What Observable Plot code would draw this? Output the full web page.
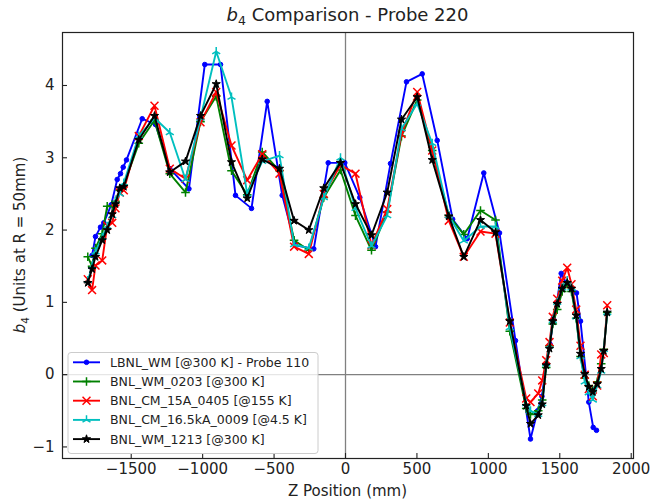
<!DOCTYPE html>
<html>
<head>
<meta charset="utf-8">
<script src="https://cdn.jsdelivr.net/npm/d3@7"></script>
<script src="https://cdn.jsdelivr.net/npm/@observablehq/plot@0.6"></script>
<style>
  html, body { margin: 0; padding: 0; background: #fff; }
  #chart { position: relative; width: 653px; height: 500px; }
  #chart svg text { white-space: pre; }
</style>
</head>
<body>
<div id="chart"></div>
<script>
// Z positions (mm) of the BNL scans
const bnlZ = [-1804, -1774, -1750, -1703, -1668, -1633, -1610, -1580, -1552, -1447, -1337, -1230, -1120, -1015, -905, -798, -688, -583, -462, -360, -257, -152, -35, 70, 182, 292, 392, 502, 607, 723, 828, 945, 1050, 1150, 1265, 1295, 1349, 1377, 1405, 1428, 1451, 1482, 1517, 1552, 1582, 1615, 1645, 1675, 1703, 1731, 1762, 1790, 1808, 1832];
// Z positions (mm) of the LBNL scan
const lbnlZ = [-1774, -1750, -1715, -1692, -1640, -1598, -1575, -1556, -1533, -1423, -1330, -1230, -1096, -985, -875, -770, -658, -548, -443, -350, -222, -121, -5, 100, 210, 315, 427, 537, 642, 750, 852, 968, 1078, 1190, 1295, 1345, 1375, 1405, 1432, 1455, 1480, 1510, 1545, 1617, 1645, 1703, 1734, 1757];

// b4 values (units at R = 50 mm)
const lbnlWM = [1.65, 1.91, 2.04, 2.10, 2.35, 2.70, 2.78, 2.87, 2.97, 3.54, 3.46, 2.85, 2.57, 4.29, 4.29, 2.48, 2.30, 3.78, 2.48, 1.79, 1.74, 2.93, 2.93, 2.45, 1.77, 2.92, 4.05, 4.16, 3.24, 2.15, 1.88, 2.79, 1.96, 0.47, -0.89, -0.50, -0.30, 0.15, 0.42, 0.78, 1.00, 1.40, 1.27, 1.13, 0.74, -0.38, -0.73, -0.77];
const bnlWM0203 = [1.63, 1.50, 1.75, 1.95, 2.33, 2.33, 2.40, 2.55, 2.62, 3.20, 3.52, 2.78, 2.52, 3.50, 3.85, 2.82, 2.49, 3.08, 2.82, 1.86, 1.72, 2.45, 2.83, 2.20, 1.72, 2.25, 3.30, 3.80, 3.10, 2.20, 1.94, 2.27, 2.14, 0.60, -0.47, -0.55, -0.50, -0.35, 0.10, 0.40, 0.70, 0.90, 1.15, 1.25, 1.15, 0.78, 0.25, -0.05, -0.15, -0.22, -0.10, 0.15, 0.35, 0.86];
const bnlCM15A0405 = [1.32, 1.17, 1.51, 1.58, 2.06, 2.10, 2.30, 2.52, 2.55, 3.30, 3.72, 2.85, 2.71, 3.49, 3.91, 3.17, 2.69, 3.05, 2.78, 1.77, 1.67, 2.50, 2.90, 2.78, 1.79, 2.29, 3.33, 3.91, 3.10, 2.13, 1.63, 1.98, 1.95, 0.72, -0.33, -0.38, -0.26, -0.08, 0.20, 0.45, 0.80, 1.05, 1.30, 1.48, 1.25, 0.90, 0.40, 0.00, -0.20, -0.30, -0.15, 0.28, 0.30, 0.96];
const bnlCM165kA0009 = [1.30, 1.50, 1.70, 1.90, 2.05, 2.20, 2.40, 2.50, 2.65, 3.30, 3.55, 3.35, 2.70, 3.55, 4.47, 3.84, 2.50, 2.95, 3.03, 1.80, 1.75, 2.45, 3.00, 2.30, 1.78, 2.20, 3.40, 3.75, 3.20, 2.20, 1.85, 2.05, 2.05, 0.65, -0.40, -0.50, -0.55, -0.40, 0.15, 0.40, 0.75, 1.00, 1.20, 1.30, 1.20, 0.80, 0.25, -0.10, -0.25, -0.35, -0.15, 0.05, 0.35, 0.86];
const bnlWM1213 = [1.27, 1.46, 1.63, 1.86, 2.00, 2.22, 2.36, 2.58, 2.60, 3.25, 3.58, 2.80, 2.95, 3.58, 4.02, 2.94, 2.44, 2.98, 2.85, 2.13, 2.00, 2.58, 2.93, 2.36, 1.93, 2.52, 3.53, 3.84, 2.97, 2.19, 1.63, 2.14, 1.97, 0.74, -0.43, -0.68, -0.56, -0.41, 0.13, 0.36, 0.74, 0.98, 1.19, 1.27, 1.19, 0.82, 0.29, 0.01, -0.17, -0.24, -0.13, 0.08, 0.33, 0.86];

const seriesNames = ["LBNL_WM [@300 K] - Probe 110", "BNL_WM_0203 [@300 K]", "BNL_CM_15A_0405 [@155 K]", "BNL_CM_16.5kA_0009 [@4.5 K]", "BNL_WM_1213 [@300 K]"];
const xTicks = [-1500, -1000, -500, 0, 500, 1000, 1500, 2000];
const yTicks = [-1, 0, 1, 2, 3, 4];

// Marker shapes (size is π·r², so r is the marker's half-extent)
const rOf = size => Math.sqrt(size / Math.PI);
const symPlus = {draw(ctx, size) { const r = rOf(size); ctx.moveTo(-r, 0); ctx.lineTo(r, 0); ctx.moveTo(0, -r); ctx.lineTo(0, r); }};
const symTimes = {draw(ctx, size) { const r = rOf(size) * Math.SQRT1_2; ctx.moveTo(-r, -r); ctx.lineTo(r, r); ctx.moveTo(-r, r); ctx.lineTo(r, -r); }};
const symTriUp = {draw(ctx, size) { const r = rOf(size); ctx.moveTo(0, 0); ctx.lineTo(0, -r); ctx.moveTo(0, 0); ctx.lineTo(-0.866 * r, 0.5 * r); ctx.moveTo(0, 0); ctx.lineTo(0.866 * r, 0.5 * r); }};
const symStar = {draw(ctx, size) {
  const R = rOf(size), ri = R * 0.382;
  for (let i = 0; i < 10; i++) {
    const a = -Math.PI / 2 + i * Math.PI / 5, rr = i % 2 ? ri : R;
    const x = rr * Math.cos(a), y = rr * Math.sin(a);
    if (i) ctx.lineTo(x, y); else ctx.moveTo(x, y);
  }
  ctx.closePath();
}};
const symDot = {draw(ctx, size) { const r = rOf(size); ctx.moveTo(r, 0); ctx.arc(0, 0, r, 0, 2 * Math.PI); }};

const series = [
  {name: seriesNames[0], z: lbnlZ, v: lbnlWM, color: "#0000ff", symbol: symDot, r: 2.3, fill: "#0000ff", stroke: "#0000ff", sw: 1},
  {name: seriesNames[1], z: bnlZ, v: bnlWM0203, color: "#008000", symbol: symPlus, r: 4.3, fill: "none", stroke: "#008000", sw: 1.5},
  {name: seriesNames[2], z: bnlZ, v: bnlCM15A0405, color: "#ff0000", symbol: symTimes, r: 5.6, fill: "none", stroke: "#ff0000", sw: 1.5},
  {name: seriesNames[3], z: bnlZ, v: bnlCM165kA0009, color: "#00bfbf", symbol: symTriUp, r: 4.6, fill: "none", stroke: "#00bfbf", sw: 1.5},
  {name: seriesNames[4], z: bnlZ, v: bnlWM1213, color: "#000000", symbol: symStar, r: 4.3, fill: "#000000", stroke: "#000000", sw: 1}
];
series.forEach(s => { s.data = s.z.map((z, i) => ({z, b4: s.v[i]})); });

const W = 653, H = 500;
const mL = 62, mR = 20, mT = 32, mB = 42;
const innerW = W - mL - mR, innerH = H - mT - mB;
const fmt = d => d < 0 ? "\u2212" + Math.abs(d) : String(d);

const marks = [
  Plot.ruleY([0], {stroke: "#808080", strokeWidth: 1.3}),
  Plot.ruleX([0], {stroke: "#808080", strokeWidth: 1.3})
];
for (const s of series) {
  marks.push(Plot.line(s.data, {x: "z", y: "b4", stroke: s.color, strokeWidth: 1.9}));
  marks.push(Plot.dot(s.data, {x: "z", y: "b4", symbol: s.symbol, r: s.r, fill: s.fill, stroke: s.stroke, strokeWidth: s.sw}));
}
marks.push(
  Plot.ruleX(xTicks, {insetTop: innerH - 5, stroke: "#222", strokeWidth: 1.1}),
  Plot.ruleY(yTicks, {insetRight: innerW - 5, stroke: "#222", strokeWidth: 1.1}),
  Plot.axisX(xTicks, {tickSize: 0, tickPadding: 5, tickFormat: fmt, label: null, fontSize: 15, fill: "#222"}),
  Plot.axisY(yTicks, {tickSize: 0, tickPadding: 8, tickFormat: fmt, label: null, fontSize: 15, fill: "#222"}),
  Plot.frame({stroke: "#222", strokeWidth: 1.2})
);

const chart = Plot.plot({
  width: W, height: H,
  marginLeft: mL, marginRight: mR, marginTop: mT, marginBottom: mB,
  style: {fontFamily: "'DejaVu Sans', sans-serif", fontSize: "15px", color: "#222", background: "#fff"},
  x: {domain: [-1981, 2016]},
  y: {domain: [-1.16, 4.733]},
  marks
});
document.getElementById("chart").appendChild(chart);

const svg = d3.select(chart);
const font = "'DejaVu Sans', sans-serif";

// Title
const title = svg.append("text")
  .attr("x", mL + innerW / 2).attr("y", 21)
  .attr("text-anchor", "middle")
  .style("font-family", font).style("font-size", "18px").attr("fill", "#222");
title.append("tspan").attr("font-style", "italic").text("b");
title.append("tspan").attr("font-size", "12.5px").attr("dy", 4).text("4");
title.append("tspan").attr("dy", -4).text(" Comparison - Probe 220");

// Axis labels
svg.append("text")
  .attr("x", mL + innerW / 2).attr("y", 496)
  .attr("text-anchor", "middle")
  .style("font-family", font).style("font-size", "15px").attr("fill", "#222")
  .text("Z Position (mm)");

const ylab = svg.append("text")
  .attr("transform", `translate(25,${mT + innerH / 2}) rotate(-90)`)
  .attr("text-anchor", "middle")
  .style("font-family", font).style("font-size", "15px").attr("fill", "#222");
ylab.append("tspan").attr("font-style", "italic").text("b");
ylab.append("tspan").attr("font-size", "10.5px").attr("dy", 3.5).text("4");
ylab.append("tspan").attr("dy", -3.5).text(" (Units at R = 50mm)");

// Legend
const lg = svg.append("g").attr("text-anchor", "start");
lg.append("rect")
  .attr("x", 68).attr("y", 352.5).attr("width", 250).attr("height", 101).attr("rx", 3)
  .attr("fill", "#fff").attr("fill-opacity", 0.8).attr("stroke", "#ccc").attr("stroke-width", 1);
series.forEach((s, i) => {
  const y = 362.3 + i * 19.2;
  lg.append("line").attr("x1", 73).attr("x2", 100).attr("y1", y).attr("y2", y)
    .attr("stroke", s.color).attr("stroke-width", 1.9);
  lg.append("path")
    .attr("transform", `translate(86.5,${y})`)
    .attr("d", d3.symbol(s.symbol, Math.PI * s.r * s.r)())
    .attr("fill", s.fill).attr("stroke", s.stroke).attr("stroke-width", s.sw);
  lg.append("text").attr("x", 110).attr("y", y).attr("dy", "0.36em")
    .attr("text-anchor", "start")
    .style("font-family", font).style("font-size", "12.5px").attr("fill", "#222")
    .text(s.name);
});
</script>
</body>
</html>
